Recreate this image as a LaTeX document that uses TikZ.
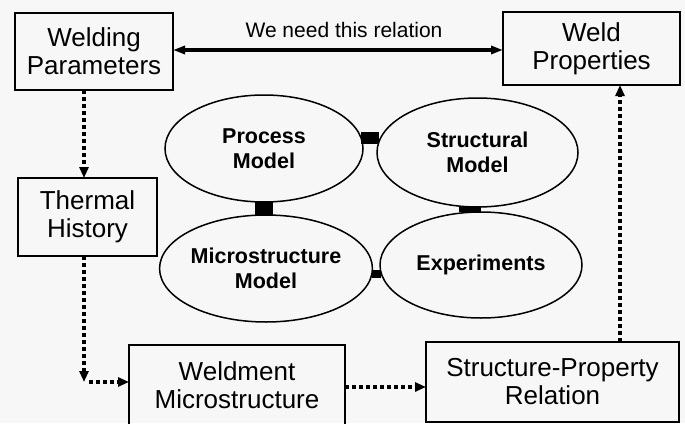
\documentclass[tikz,border=0pt]{standalone}
\usepackage{fontspec}
\setmainfont{Liberation Sans}
\usetikzlibrary{arrows.meta,shapes.geometric}
\definecolor{paper}{RGB}{247,247,247}
\begin{document}
\begin{tikzpicture}[x=1pt,y=-1pt,
  box/.style={draw, line width=1.7pt, rectangle, inner sep=0pt, outer sep=0pt,
    align=center, font=\fontsize{26}{28}\selectfont},
  model/.style={draw, line width=1.5pt, ellipse, inner sep=0pt, outer sep=0pt,
    align=center, font=\bfseries\fontsize{21.5}{25}\selectfont},
  link/.style={line cap=butt, line width=#1},
  flow/.style={line width=3.8pt, dash pattern=on 4pt off 3pt,
    -{Triangle[length=11pt,width=9pt]}},
  relation/.style={line width=3.4pt,
    {Triangle[length=12pt,width=8pt]}-{Triangle[length=12pt,width=8pt]}},
]
% page and background
\useasboundingbox (0,0) rectangle (685,423);
\fill[paper] (0,0) rectangle (685,423);
\clip (0,0) rectangle (685,423);

% boxes
\node[box, minimum width=158pt, minimum height=77pt] (wp)  at (94,51.5)   {Welding\\Parameters};
\node[box, minimum width=177pt, minimum height=73pt] (wpr) at (591.5,48.5) {Weld\\Properties};
\node[box, minimum width=139pt, minimum height=78pt] (th)  at (87.5,217)  {Thermal\\History};
\node[box, minimum width=216pt, minimum height=81pt] (wm)  at (237,385.5) {Weldment\\Microstructure};
\node[box, minimum width=253pt, minimum height=80pt] (sp)  at (552.5,382) {Structure-Property\\Relation};

% models
\node[model, minimum width=198pt, minimum height=107pt] (pm) at (264,148.5)   {Process\\Model};
\node[model, minimum width=201pt, minimum height=109pt] (sm) at (477.5,152.5) {Structural\\Model};
\node[model, minimum width=200pt, minimum height=107pt] (mm) at (266,268.5)   {Microstructure\\Model};
\node[model, minimum width=202pt, minimum height=106pt] (ex) at (481,265)     {Experiments};

% couplings between the models
\draw[link=12pt] (pm.6) -- (pm.6 -| sm.174);
\draw[link=18pt] (pm.south) -- (pm.south |- mm.north);
\draw[link=22pt] (sm.262) -- (sm.262 |- ex.101);
\draw[link=8pt]  (mm.-3) -- (mm.-3 -| ex.185);

% the sought relation
\coordinate (ty) at (0,50);
\draw[relation] (wp.east |- ty) -- (wpr.west |- ty);
\node[font=\fontsize{21}{24}\selectfont] (lbl) at (344,30) {We need this relation};

% process chain
\coordinate (lx) at (84,0);
\coordinate (bend) at (84,382);
\coordinate (hstart) at (89,382);
\coordinate (my) at (0,387);
\coordinate (rx) at (620,0);
\draw[flow] (wp.south -| lx) -- (th.north -| lx);
\draw[flow] (th.south -| lx) -- (bend);
\draw[flow] (hstart) -- (wm.west |- hstart);
\draw[flow] (wm.east |- my) -- (sp.west |- my);
\draw[flow] (sp.north -| rx) -- (wpr.south -| rx);
\end{tikzpicture}
\end{document}
